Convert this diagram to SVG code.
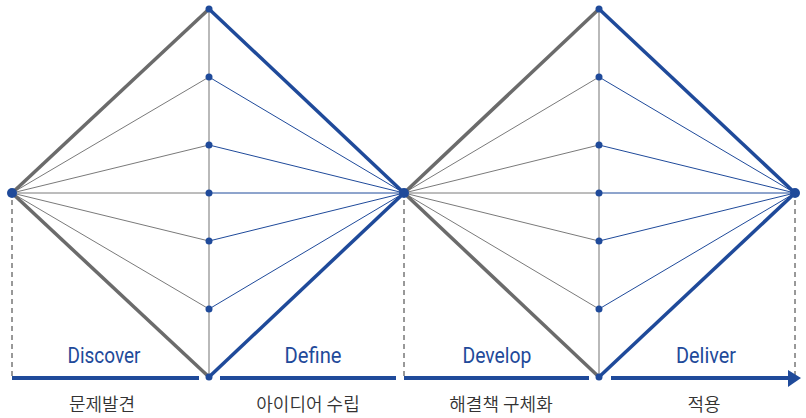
<svg xmlns="http://www.w3.org/2000/svg" width="806" height="418" viewBox="0 0 806 418">
<defs>
<style>
.tg{stroke:#7a7a7a;stroke-width:1;fill:none}
.tb{stroke:#1f4a9a;stroke-width:1;fill:none}
.kg{stroke:#6b6b6b;stroke-width:3.5;fill:none}
.kb{stroke:#1f4a9a;stroke-width:3.5;fill:none}
.vl{stroke:#8a8a8a;stroke-width:1.2;fill:none}
.dash{stroke:#333;stroke-width:1;stroke-dasharray:5,4;fill:none}
.bar{stroke:#1f4a9a;stroke-width:4;fill:none}
.dot{fill:#1f4a9a}
.en{font-family:Roboto,"Liberation Sans",sans-serif;font-size:22px;font-weight:400;fill:#1f4a9a;text-anchor:middle}
.ko{font-family:"Noto Sans CJK KR","Noto Sans",sans-serif;font-size:18px;font-weight:350;fill:#333;text-anchor:middle}
</style>
</defs>
<g id="connectors">
<line class="vl" x1="209" y1="9" x2="209" y2="377"/>
<line class="tg" x1="12" y1="193" x2="209" y2="77"/>
<line class="tg" x1="12" y1="193" x2="209" y2="145"/>
<line class="tg" x1="12" y1="193" x2="209" y2="193"/>
<line class="tg" x1="12" y1="193" x2="209" y2="241"/>
<line class="tg" x1="12" y1="193" x2="209" y2="309"/>
<line class="tb" x1="404" y1="193" x2="209" y2="77"/>
<line class="tb" x1="404" y1="193" x2="209" y2="145"/>
<line class="tb" x1="404" y1="193" x2="209" y2="193"/>
<line class="tb" x1="404" y1="193" x2="209" y2="241"/>
<line class="tb" x1="404" y1="193" x2="209" y2="309"/>
<line class="kg" x1="12" y1="193" x2="209" y2="9"/>
<line class="kg" x1="12" y1="193" x2="209" y2="377"/>
<line class="kb" x1="404" y1="193" x2="209" y2="9"/>
<line class="kb" x1="404" y1="193" x2="209" y2="377"/>
<line class="vl" x1="599" y1="9" x2="599" y2="377"/>
<line class="tg" x1="404" y1="193" x2="599" y2="77"/>
<line class="tg" x1="404" y1="193" x2="599" y2="145"/>
<line class="tg" x1="404" y1="193" x2="599" y2="193"/>
<line class="tg" x1="404" y1="193" x2="599" y2="241"/>
<line class="tg" x1="404" y1="193" x2="599" y2="309"/>
<line class="tb" x1="795" y1="193" x2="599" y2="77"/>
<line class="tb" x1="795" y1="193" x2="599" y2="145"/>
<line class="tb" x1="795" y1="193" x2="599" y2="193"/>
<line class="tb" x1="795" y1="193" x2="599" y2="241"/>
<line class="tb" x1="795" y1="193" x2="599" y2="309"/>
<line class="kg" x1="404" y1="193" x2="599" y2="9"/>
<line class="kg" x1="404" y1="193" x2="599" y2="377"/>
<line class="kb" x1="795" y1="193" x2="599" y2="9"/>
<line class="kb" x1="795" y1="193" x2="599" y2="377"/>
<line class="dash" x1="12" y1="200" x2="12" y2="376"/>
<line class="dash" x1="404" y1="200" x2="404" y2="376"/>
<line class="dash" x1="795" y1="200" x2="795" y2="376"/>
<line class="bar" x1="12" y1="378" x2="199" y2="378"/>
<line class="bar" x1="220" y1="378" x2="396" y2="378"/>
<line class="bar" x1="404" y1="378" x2="589" y2="378"/>
<line class="bar" x1="611" y1="378" x2="790" y2="378"/>
<polygon class="dot" points="788,370 801,378 788,387"/>
</g>
<g id="dots">
<circle class="dot" cx="209" cy="9" r="3.5"/>
<circle class="dot" cx="209" cy="77" r="3.5"/>
<circle class="dot" cx="209" cy="145" r="3.5"/>
<circle class="dot" cx="209" cy="193" r="3.5"/>
<circle class="dot" cx="209" cy="241" r="3.5"/>
<circle class="dot" cx="209" cy="309" r="3.5"/>
<circle class="dot" cx="209" cy="377" r="3.5"/>
<circle class="dot" cx="599" cy="9" r="3.5"/>
<circle class="dot" cx="599" cy="77" r="3.5"/>
<circle class="dot" cx="599" cy="145" r="3.5"/>
<circle class="dot" cx="599" cy="193" r="3.5"/>
<circle class="dot" cx="599" cy="241" r="3.5"/>
<circle class="dot" cx="599" cy="309" r="3.5"/>
<circle class="dot" cx="599" cy="377" r="3.5"/>
<circle class="dot" cx="12" cy="193" r="5"/>
<circle class="dot" cx="404" cy="193" r="5"/>
<circle class="dot" cx="795" cy="193" r="5"/>
</g>
<g id="discover">
<text class="en" x="104" y="363" textLength="73" lengthAdjust="spacingAndGlyphs">Discover</text>
<text class="ko" x="102" y="411">문제발견</text>
</g>
<g id="define">
<text class="en" x="313" y="363" textLength="57" lengthAdjust="spacingAndGlyphs">Define</text>
<text class="ko" x="308" y="411">아이디어 수립</text>
</g>
<g id="develop">
<text class="en" x="497" y="363" textLength="69" lengthAdjust="spacingAndGlyphs">Develop</text>
<text class="ko" x="501" y="411">해결책 구체화</text>
</g>
<g id="deliver">
<text class="en" x="706" y="363" textLength="60" lengthAdjust="spacingAndGlyphs">Deliver</text>
<text class="ko" x="704" y="411">적용</text>
</g>
</svg>
